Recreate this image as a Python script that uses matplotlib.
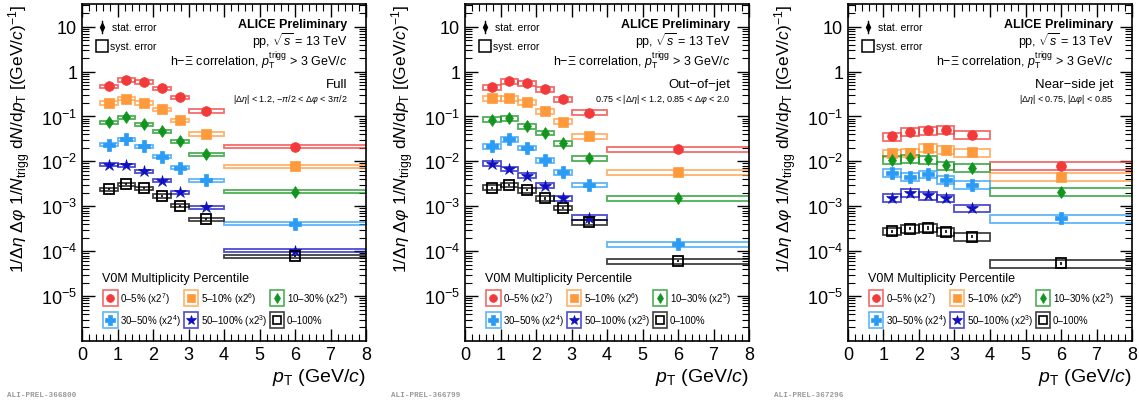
import numpy as np
import matplotlib.pyplot as plt
from matplotlib.patches import Rectangle
from matplotlib.lines import Line2D

plt.rcParams["font.family"] = ["Liberation Sans", "DejaVu Sans"]
plt.rcParams["mathtext.fontset"] = "custom"
plt.rcParams["mathtext.rm"] = "Liberation Sans"
plt.rcParams["mathtext.it"] = "Liberation Sans:italic"
plt.rcParams["mathtext.bf"] = "Liberation Sans:bold"

# pT bins
edges_full = [0.5, 1.0, 1.5, 2.0, 2.5, 3.0, 4.0, 8.0]
edges_ns = [1.0, 1.5, 2.0, 2.5, 3.0, 4.0, 8.0]

# multiplicity classes
classes = ["0-5", "5-10", "10-30", "30-50", "50-100", "0-100"]
legend_labels = [
    "0\u20135% (x2$^{7}$)", "5\u201310% (x2$^{6}$)", "10\u201330% (x2$^{5}$)",
    "30\u201350% (x2$^{4}$)", "50\u2013100% (x2$^{3}$)", "0\u2013100%",
]
colors = ["#f23a3a", "#ff9a3c", "#12951e", "#2a9cf5", "#1010c0", "#000000"]
markers = ["o", "s", "d", "P", "*", "s"]
marker_sizes = [7, 7, 6.0, 8.5, 9, 7]
marker_filled = [True, True, True, True, True, False]

# Full: |deta| < 1.2, -pi/2 < dphi < 3pi/2
full_vals = {
    "0-5": [0.47, 0.65, 0.59, 0.43, 0.27, 0.133, 0.0212],
    "5-10": [0.20, 0.25, 0.20, 0.145, 0.082, 0.041, 0.0077],
    "10-30": [0.075, 0.096, 0.068, 0.047, 0.028, 0.0146, 0.0021],
    "30-50": [0.0235, 0.0315, 0.022, 0.0127, 0.0073, 0.0038, 4.1e-4],
    "50-100": [0.0085, 0.0083, 0.0061, 0.0037, 0.00204, 9.5e-4, 1.03e-4],
    "0-100": [0.0024, 0.0031, 0.0025, 0.0017, 0.00104, 5.1e-4, 7.8e-5],
}
# Out-of-jet: 0.75 < |deta| < 1.2, 0.85 < dphi < 2.0
ooj_vals = {
    "0-5": [0.45, 0.61, 0.55, 0.40, 0.245, 0.122, 0.0188],
    "5-10": [0.255, 0.255, 0.207, 0.13, 0.077, 0.036, 0.0057],
    "10-30": [0.085, 0.092, 0.060, 0.043, 0.0255, 0.0116, 0.0015],
    "30-50": [0.0216, 0.0315, 0.020, 0.0105, 0.0057, 0.0030, 1.43e-4],
    "50-100": [0.0089, 0.0068, 0.0048, 0.0029, 0.0015, 5.6e-4, np.nan],
    "0-100": [0.0026, 0.0030, 0.0023, 0.0015, 9.2e-4, 4.4e-4, 6.0e-5],
}
# Near-side jet: |deta| < 0.75, |dphi| < 0.85
ns_vals = {
    "0-5": [0.036, 0.046, 0.049, 0.050, 0.039, 0.0080],
    "5-10": [0.0153, 0.0155, 0.020, 0.018, 0.016, 0.0046],
    "10-30": [0.0109, 0.0116, 0.0112, 0.0081, 0.0072, 0.0021],
    "30-50": [0.0055, 0.0046, 0.0052, 0.0039, 0.0030, 5.4e-4],
    "50-100": [0.00154, 0.0020, 0.00174, 0.00152, 9.1e-4, np.nan],
    "0-100": [2.8e-4, 3.2e-4, 3.3e-4, 2.7e-4, 2.1e-4, 5.4e-5],
}

# approximate relative uncertainties read from box / bar sizes
syst_rel = [0.08, 0.12, 0.20]
stat_rel = [0.05, 0.06, 0.08]

panel_names = ["Full", "Out\u2212of\u2212jet", "Near\u2212side jet"]
panel_cuts = [
    r"|$\Delta\eta$| < 1.2, $-\pi$/2 < $\Delta\varphi$ < 3$\pi$/2",
    r"0.75 < |$\Delta\eta$| < 1.2, 0.85 < $\Delta\varphi$ < 2.0",
    r"|$\Delta\eta$| < 0.75, |$\Delta\varphi$| < 0.85",
]
prel_ids = ["ALI-PREL-366800", "ALI-PREL-366799", "ALI-PREL-367296"]

fig = plt.figure(figsize=(11.39, 4.02), dpi=100)
ax_lefts = [82, 465, 848]
prel_x = [7, 391, 774]


def draw_panel(ax, edges, vals, srel, strel, name, cut):
    edges = np.array(edges)
    lo, hi = edges[:-1], edges[1:]
    centers = 0.5 * (lo + hi)
    for i, cl in enumerate(classes):
        y = np.array(vals[cl], dtype=float)
        for x0, x1, yv in zip(lo, hi, y):
            if np.isnan(yv):
                continue
            ax.add_patch(Rectangle((x0, yv * (1 - srel)), x1 - x0, 2 * srel * yv,
                                   facecolor="none", edgecolor=colors[i],
                                   lw=1.3, alpha=0.75, zorder=2))
        ok = ~np.isnan(y)
        ax.errorbar(centers[ok], y[ok], yerr=strel * y[ok], fmt="none",
                    ecolor=colors[i], elinewidth=1.2, capsize=0, zorder=3)
        ax.plot(centers[ok], y[ok], linestyle="none", marker=markers[i],
                markersize=marker_sizes[i],
                markerfacecolor=colors[i] if marker_filled[i] else "none",
                markeredgecolor=colors[i], markeredgewidth=1.3 if not marker_filled[i] else 0.5,
                zorder=4)

    ax.set_yscale("log")
    ax.set_xlim(0, 8)
    ax.set_ylim(1e-6, 32)
    ax.set_xticks(range(9))
    ax.set_xticks(np.arange(0, 8.01, 0.2), minor=True)
    ax.set_yticks([1e-5, 1e-4, 1e-3, 1e-2, 1e-1, 1, 10])
    ax.set_yticklabels([r"$10^{-5}$", r"$10^{-4}$", r"$10^{-3}$", r"$10^{-2}$",
                        r"$10^{-1}$", "1", "10"])
    ax.tick_params(which="both", direction="in", top=True, right=True, labelsize=13)
    ax.tick_params(which="major", length=9, width=1)
    ax.tick_params(which="minor", length=5, width=0.8)
    for sp in ax.spines.values():
        sp.set_linewidth(1.2)

    ax.set_xlabel(r"$p_{\mathrm{T}}$ (GeV/$c$)", fontsize=14, loc="right", labelpad=2)
    ax.set_ylabel(r"1/$\Delta\eta$ $\Delta\varphi$ 1/$N_{\mathrm{trigg}}$ d$N$/d$p_{\mathrm{T}}$ [(GeV/$c$)$^{-1}$]",
                  fontsize=12.5, loc="top", labelpad=6)

    # header text
    tx = 0.935
    ax.text(tx, 0.94, "ALICE Preliminary", transform=ax.transAxes, ha="right",
            va="center", fontsize=9, fontweight="bold")
    ax.text(tx, 0.893, r"pp, $\sqrt{s}$ = 13 TeV", transform=ax.transAxes,
            ha="right", va="center", fontsize=9)
    ax.text(tx, 0.832, "h\u2212\u039e correlation, $p_{\\mathrm{T}}^{\\mathrm{trigg}}$ > 3 GeV/$c$",
            transform=ax.transAxes, ha="right", va="center", fontsize=9)
    ax.text(tx, 0.763, name, transform=ax.transAxes, ha="right", va="center", fontsize=9.5)
    ax.text(tx, 0.72, cut, transform=ax.transAxes, ha="right", va="center", fontsize=6.5)

    # stat / syst legend
    ax.add_line(Line2D([0.07, 0.07], [0.915, 0.95], color="black", lw=1,
                       transform=ax.transAxes))
    ax.plot([0.07], [0.932], marker="d", color="black", markersize=4,
            transform=ax.transAxes)
    ax.text(0.105, 0.932, "stat. error", transform=ax.transAxes, va="center", fontsize=7.5)
    ax.add_patch(Rectangle((0.05, 0.858), 0.04, 0.036, transform=ax.transAxes,
                           facecolor="none", edgecolor="black", lw=1.1))
    ax.text(0.097, 0.875, "syst. error", transform=ax.transAxes, va="center", fontsize=7.5)

    # multiplicity legend
    ax.text(0.07, 0.187, "V0M Multiplicity Percentile", transform=ax.transAxes,
            va="center", fontsize=9)
    col_x = [0.099, 0.384, 0.687]
    row_y = [0.128, 0.062]
    bw, bh = 0.052, 0.046
    for i in range(len(classes)):
        cx = col_x[i % 3]
        cy = row_y[i // 3]
        ax.add_patch(Rectangle((cx - bw / 2, cy - bh / 2), bw, bh, transform=ax.transAxes,
                               facecolor="none", edgecolor=colors[i], lw=1.2, alpha=0.75))
        ax.plot([cx], [cy], marker=markers[i], markersize=marker_sizes[i] * 0.8,
                markerfacecolor=colors[i] if marker_filled[i] else "none",
                markeredgecolor=colors[i], markeredgewidth=1.2 if not marker_filled[i] else 0.5,
                linestyle="none", transform=ax.transAxes)
        ax.text(cx + 0.035, cy, legend_labels[i], transform=ax.transAxes,
                va="center", fontsize=7)


all_edges = [edges_full, edges_full, edges_ns]
all_vals = [full_vals, ooj_vals, ns_vals]
for k in range(3):
    ax = fig.add_axes([ax_lefts[k] / 1139, 60 / 402, 284 / 1139, 337 / 402])
    draw_panel(ax, all_edges[k], all_vals[k], syst_rel[k], stat_rel[k],
               panel_names[k], panel_cuts[k])
    fig.text(prel_x[k] / 1139, 0.012, prel_ids[k], fontsize=5.5, color="#999999",
             family="Liberation Mono", fontweight="bold")

fig.savefig("out.png", dpi=100)
